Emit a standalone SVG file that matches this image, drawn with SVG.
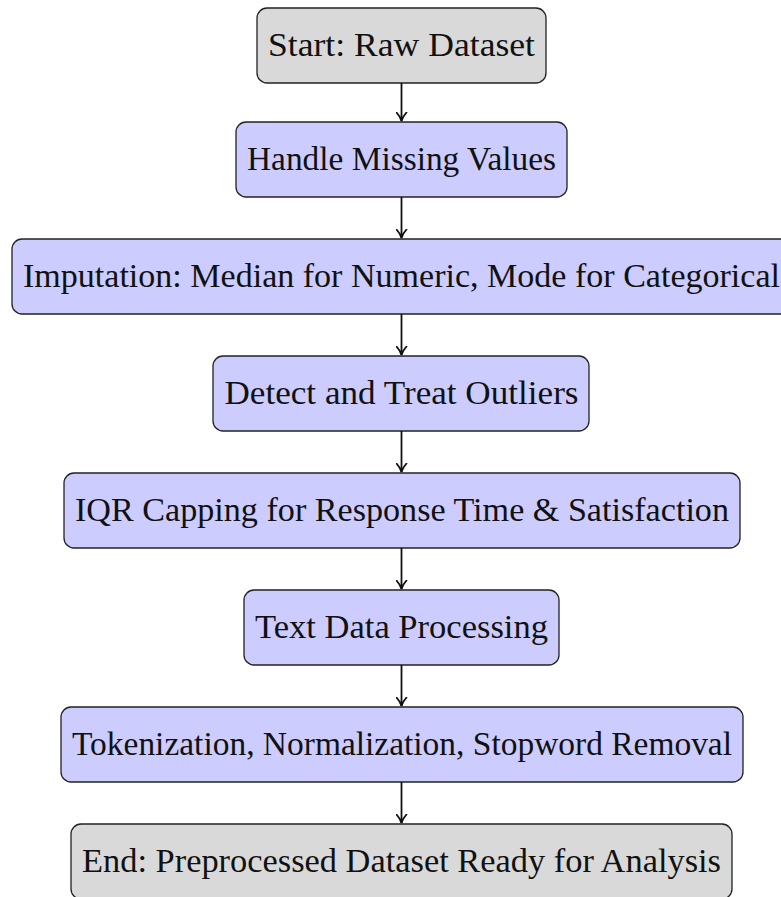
<svg xmlns="http://www.w3.org/2000/svg" width="781" height="897" viewBox="0 0 781 897">
<style>
.box{stroke:#222;stroke-width:1.3}
.proc{fill:#ccccff}
.term{fill:#d9d9d9}
text{font-family:"Liberation Serif","DejaVu Serif",serif;font-size:33px;fill:#111;text-anchor:middle}
.conn line{stroke:#111;stroke-width:1.8}
</style>
<defs>
<marker id="arr" viewBox="0 0 10 12" refX="9.5" refY="6" markerWidth="10" markerHeight="12" markerUnits="userSpaceOnUse" orient="auto">
<path d="M1,1 Q5.5,5 9.5,6 Q5.5,7 1,11" fill="none" stroke="#111" stroke-width="1.8" stroke-linecap="round"/>
</marker>
</defs>
<g id="n1"><rect class="box term" x="257" y="8" width="289" height="75" rx="10"/><text x="401.5" y="56" textLength="267" lengthAdjust="spacingAndGlyphs">Start: Raw Dataset</text></g>
<g id="n2"><rect class="box proc" x="236" y="122" width="331" height="75" rx="10"/><text x="401.5" y="170" textLength="309" lengthAdjust="spacingAndGlyphs">Handle Missing Values</text></g>
<g id="n3"><rect class="box proc" x="12" y="239" width="779" height="75" rx="10"/><text x="401.5" y="287" textLength="757" lengthAdjust="spacingAndGlyphs">Imputation: Median for Numeric, Mode for Categorical</text></g>
<g id="n4"><rect class="box proc" x="213" y="356" width="376" height="75" rx="10"/><text x="401.5" y="404" textLength="354" lengthAdjust="spacingAndGlyphs">Detect and Treat Outliers</text></g>
<g id="n5"><rect class="box proc" x="64" y="473" width="676" height="75" rx="10"/><text x="402" y="521" textLength="654" lengthAdjust="spacingAndGlyphs">IQR Capping for Response Time &amp; Satisfaction</text></g>
<g id="n6"><rect class="box proc" x="244" y="590" width="315" height="75" rx="10"/><text x="401.5" y="638" textLength="293" lengthAdjust="spacingAndGlyphs">Text Data Processing</text></g>
<g id="n7"><rect class="box proc" x="61" y="707" width="682" height="75" rx="10"/><text x="402" y="755" textLength="660" lengthAdjust="spacingAndGlyphs">Tokenization, Normalization, Stopword Removal</text></g>
<g id="n8"><rect class="box term" x="71" y="824" width="661" height="75" rx="10"/><text x="401.5" y="872" textLength="639" lengthAdjust="spacingAndGlyphs">End: Preprocessed Dataset Ready for Analysis</text></g>
<g class="conn" id="connectors">
<line x1="401.5" y1="83" x2="401.5" y2="121" marker-end="url(#arr)"/>
<line x1="401.5" y1="197" x2="401.5" y2="238" marker-end="url(#arr)"/>
<line x1="401.5" y1="314" x2="401.5" y2="355" marker-end="url(#arr)"/>
<line x1="401.5" y1="431" x2="401.5" y2="472" marker-end="url(#arr)"/>
<line x1="401.5" y1="548" x2="401.5" y2="589" marker-end="url(#arr)"/>
<line x1="401.5" y1="665" x2="401.5" y2="706" marker-end="url(#arr)"/>
<line x1="401.5" y1="782" x2="401.5" y2="823" marker-end="url(#arr)"/>
</g>
</svg>
